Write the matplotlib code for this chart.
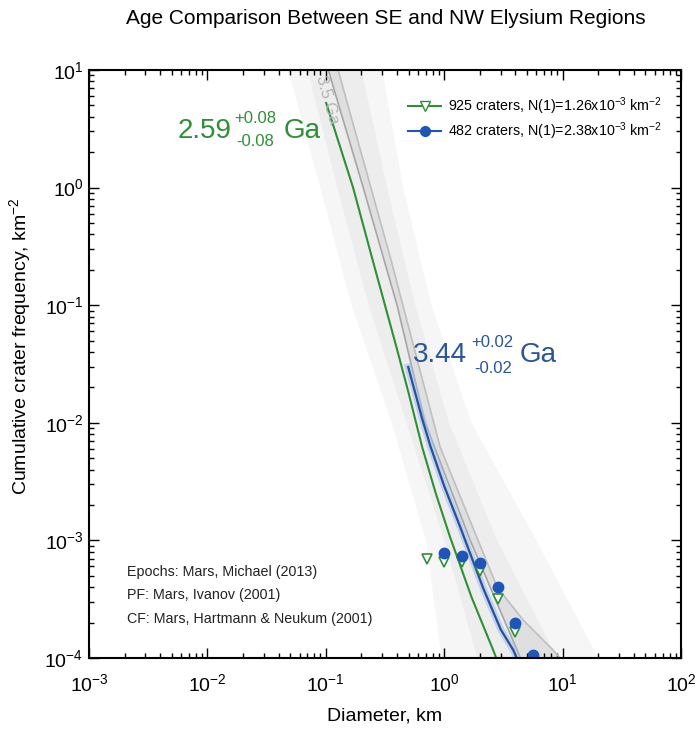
import matplotlib
matplotlib.use("Agg")
import matplotlib.pyplot as plt
import numpy as np

plt.rcParams["font.family"] = ["Liberation Sans", "DejaVu Sans"]
plt.rcParams["mathtext.fontset"] = "custom"
plt.rcParams["mathtext.rm"] = "Liberation Sans"
plt.rcParams["mathtext.it"] = "Liberation Sans"

# crater counts (cumulative)
se_diam = [0.71, 1.0, 1.41, 2.0, 2.83, 4.0]
se_freq = [6.9e-4, 6.6e-4, 6.5e-4, 5.5e-4, 3.2e-4, 1.65e-4]
nw_diam = [1.0, 1.41, 2.0, 2.83, 4.0, 5.66]
nw_freq = [7.8e-4, 7.4e-4, 6.4e-4, 4.0e-4, 2.0e-4, 1.07e-4]

# fitted isochrons
se_fit_d = [0.1007, 0.17, 0.246, 0.401, 0.5, 0.652, 0.85, 1.12, 1.7, 2.59, 2.75]
se_fit_n = [5.24, 1.0, 0.252, 0.0416, 0.018, 6.2e-3, 2.5e-3, 1.07e-3, 3.3e-4, 1.17e-4, 1.0e-4]
nw_fit_d = [0.497, 0.652, 0.762, 1.0, 1.365, 2.14, 3.0, 3.83, 4.1]
nw_fit_n = [0.0298, 0.0108, 6.4e-3, 2.9e-3, 1.3e-3, 3.9e-4, 1.75e-4, 1.17e-4, 1.0e-4]

# reference isochrons / epoch boundaries (grey)
iso35_d = [0.105, 0.207, 0.40, 0.69, 1.66, 4.4]
iso35_n = [10, 1, 0.1, 0.01, 1e-3, 1e-4]
isob_d = [0.127, 0.35, 0.925, 2.8, 4.65, 8.3, 9.5]
isob_n = [10, 0.257, 6.2e-3, 4.0e-4, 2.1e-4, 1.17e-4, 1.0e-4]

band_levels = [10, 1, 0.1, 0.01, 1e-3, 1e-4]
band1_left = [0.048, 0.09, 0.165, 0.36, 0.7, 0.95]
band1_right = [0.30, 0.45, 0.78, 1.7, 6.0, 20.0]
band2_left = [0.07, 0.125, 0.23, 0.48, 1.0, 1.9]
band2_right = [0.2, 0.33, 0.57, 1.1, 2.8, 9.0]

green = "#2f8f36"
blue = "#1f55b8"

fig = plt.figure(figsize=(7, 7.29), dpi=100)
ax = fig.add_axes([89 / 700, 71 / 729, 592 / 700, 588 / 729])

lv = np.array(band_levels)
for left, right, a in [(band1_left, band1_right, 0.07), (band2_left, band2_right, 0.07)]:
    ax.fill(np.r_[left, right[::-1]], np.r_[lv, lv[::-1]], color="0.5", alpha=a, lw=0)

ax.fill(np.r_[iso35_d, isob_d[::-1]], np.r_[iso35_n, isob_n[::-1]],
        color="0.5", alpha=0.12, lw=0)
ax.plot(iso35_d, iso35_n, color="0.65", lw=1.2)
ax.plot(isob_d, isob_n, color="0.75", lw=1.2)

ax.plot(nw_fit_d, nw_fit_n, color="#9fc0ee", lw=5, alpha=0.6)
ax.plot(se_fit_d, se_fit_n, color=green, lw=1.5)
ax.plot(nw_fit_d, nw_fit_n, color="#2a4f96", lw=1.6)

ax.plot(se_diam, se_freq, "v", ms=7.5, mfc="white", mec=green, mew=1.2, ls="none")
ax.plot(nw_diam, nw_freq, "o", ms=7.5, color=blue, ls="none")

ax.set_xscale("log")
ax.set_yscale("log")
ax.set_xlim(1e-3, 1e2)
ax.set_ylim(1e-4, 1e1)
ax.tick_params(which="both", direction="in", top=True, right=True, labelsize=14)
ax.tick_params(which="major", length=7, width=1)
ax.tick_params(which="minor", length=3.5, width=1)
ax.tick_params(axis="x", pad=11)
ax.tick_params(axis="y", pad=4)
for s in ax.spines.values():
    s.set_linewidth(1.5)

ax.set_xlabel("Diameter, km", fontsize=14, labelpad=9)
ax.set_ylabel("Cumulative crater frequency, km$^{-2}$", fontsize=14)
ax.yaxis.set_label_coords(-0.095, 0.53)
fig.text(386 / 700, 1 - 18 / 729, "Age Comparison Between SE and NW Elysium Regions",
         ha="center", va="center", fontsize=15)

# legend
ax.plot([], [], color=green, marker="v", mfc="white", mec=green, ms=7,
        label="925 craters, N(1)=1.26x10$^{-3}$ km$^{-2}$")
ax.plot([], [], color=blue, marker="o", ms=7,
        label="482 craters, N(1)=2.38x10$^{-3}$ km$^{-2}$")
ax.legend(loc="upper right", bbox_to_anchor=(0.99, 0.978), frameon=False,
          fontsize=10.3, handlelength=2.3, handletextpad=0.5, labelspacing=0.2)

# age labels
def fx(px):
    return px / 700


def fy(py):
    return 1 - py / 729


fig.text(fx(178), fy(138), "2.59", color=green, fontsize=20, va="baseline")
fig.text(fx(234), fy(123), "+0.08", color=green, fontsize=12, va="baseline")
fig.text(fx(236), fy(146), "-0.08", color=green, fontsize=12, va="baseline")
fig.text(fx(284), fy(138), "Ga", color=green, fontsize=20, va="baseline")

navy = "#2a5597"
fig.text(fx(413), fy(362), "3.44", color=navy, fontsize=20, va="baseline")
fig.text(fx(471), fy(347), "+0.02", color=navy, fontsize=12, va="baseline")
fig.text(fx(474), fy(373), "-0.02", color=navy, fontsize=12, va="baseline")
fig.text(fx(520), fy(362), "Ga", color=navy, fontsize=20, va="baseline")

fig.text(fx(327), fy(100), "3.5 Ga", color="0.7", fontsize=12, rotation=-74,
         ha="center", va="center")

notes = ["Epochs: Mars, Michael (2013)", "PF: Mars, Ivanov (2001)",
         "CF: Mars, Hartmann & Neukum (2001)"]
for i, t in enumerate(notes):
    fig.text(fx(127), fy(572 + 23.5 * i), t, fontsize=10.3, color="#222222", va="center")

fig.savefig("out.png", dpi=100)
